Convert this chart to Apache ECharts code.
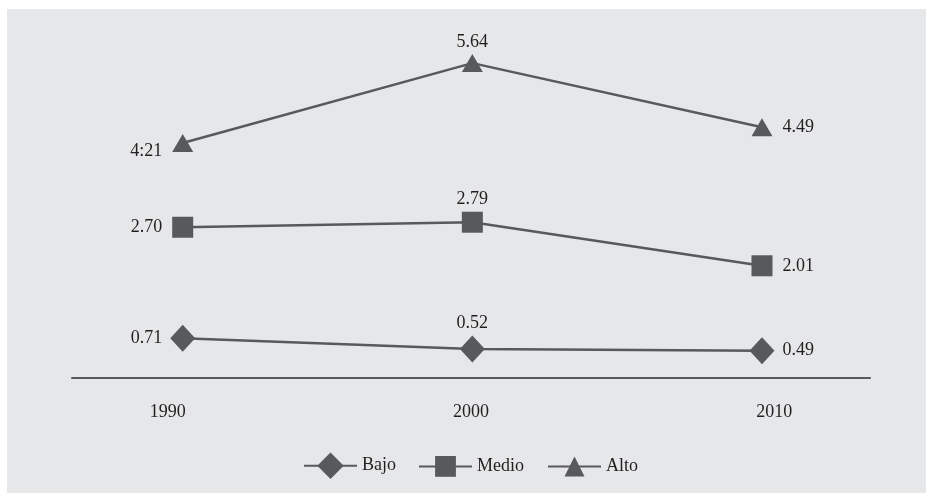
<!DOCTYPE html>
<html>
<head>
<meta charset="utf-8">
<script src="https://cdn.jsdelivr.net/npm/echarts@6/dist/echarts.min.js"></script>
<style>
  html, body { margin: 0; padding: 0; background: #ffffff; }
  #chart { width: 926px; height: 493px; }
</style>
</head>
<body>
<div id="chart"></div>
<script>
// Years on the horizontal axis
var years = [1990, 2000, 2010];
var yearLabels = ['1990', '2000', '2010'];

// Series values
var bajo = [0.71, 0.52, 0.49];
var medio = [2.70, 2.79, 2.01];
var alto = [4.21, 5.64, 4.49];

// Printed value labels
var bajoText = ['0.71', '0.52', '0.49'];
var medioText = ['2.70', '2.79', '2.01'];
var altoText = ['4:21', '5.64', '4.49'];

var INK = '#58595b';
var TEXT = '#231f20';
var FONT = '"Liberation Serif", "Times New Roman", serif';
var FS = 18;

function points(values) {
  return values.map(function (v, i) { return [years[i], v]; });
}

// first point labelled on the left, middle above, last on the right
function labelFor(texts, sideDist, extraOffsets) {
  return function (idx) {
    var pos = idx === 0 ? 'left' : (idx === 1 ? 'top' : 'right');
    var lab = {
      show: true,
      position: pos,
      distance: idx === 1 ? 3 : sideDist,
      color: TEXT,
      fontSize: FS,
      fontFamily: FONT,
      formatter: function () { return texts[idx]; }
    };
    if (extraOffsets && extraOffsets[idx]) lab.offset = extraOffsets[idx];
    return lab;
  };
}

function buildSeries(name, values, texts, symbol, size, sideDist, offsets) {
  var mk = labelFor(texts, sideDist, offsets);
  return {
    name: name,
    type: 'line',
    xAxisIndex: 0,
    yAxisIndex: 0,
    symbol: symbol,
    symbolSize: size,
    showAllSymbol: true,
    lineStyle: { color: INK, width: 2.5 },
    itemStyle: { color: INK },
    emphasis: { disabled: true },
    data: points(values).map(function (p, i) {
      return { value: p, label: mk(i) };
    })
  };
}

var chart = echarts.init(document.getElementById('chart'), null, { renderer: 'canvas' });

var legendBase = {
  orient: 'horizontal',
  padding: 0,
  itemWidth: 53,
  itemGap: 24,
  textStyle: { color: TEXT, fontSize: FS, fontFamily: FONT },
  selectedMode: false
};

var LEGEND_MID = 469;

chart.setOption({
  animation: false,
  backgroundColor: 'transparent',
  graphic: [{
    type: 'rect',
    z: -10,
    silent: true,
    shape: { x: 7, y: 9, width: 919, height: 484 },
    style: { fill: '#e6e7e8' }
  }],
  grid: [
    { left: 72, right: 56, top: 43, bottom: 115 },
    { left: 16, right: 0, top: 43, bottom: 115 }
  ],
  xAxis: [
    {
      type: 'value', gridIndex: 0,
      min: 1986.178, max: 2013.729,
      axisLine: { show: true, lineStyle: { color: INK, width: 2 } },
      axisTick: { show: false },
      axisLabel: { show: false },
      splitLine: { show: false }
    },
    {
      type: 'category', gridIndex: 1,
      data: yearLabels,
      boundaryGap: true,
      axisLine: { show: false },
      axisTick: { show: false },
      splitLine: { show: false },
      axisLabel: { margin: 25, color: TEXT, fontSize: FS, fontFamily: FONT }
    }
  ],
  yAxis: [
    { type: 'value', gridIndex: 0, min: 0, max: 6, show: false },
    { type: 'value', gridIndex: 1, min: 0, max: 6, show: false }
  ],
  legend: [
    Object.assign({}, legendBase, { data: ['Bajo'], left: 303, top: LEGEND_MID - 16.5, itemHeight: 33 }),
    Object.assign({}, legendBase, { data: ['Medio'], left: 418, top: LEGEND_MID - 13, itemHeight: 26 }),
    Object.assign({}, legendBase, { data: ['Alto'], left: 547, top: LEGEND_MID - 12.5, itemHeight: 25 })
  ],
  series: [
    buildSeries('Bajo', bajo, bajoText, 'diamond', [25, 27], 8),
    buildSeries('Medio', medio, medioText, 'rect', 21, 10),
    buildSeries('Alto', alto, altoText, 'triangle', [21, 18], 10, [[0, 8], null, null])
  ]
});
</script>
</body>
</html>
